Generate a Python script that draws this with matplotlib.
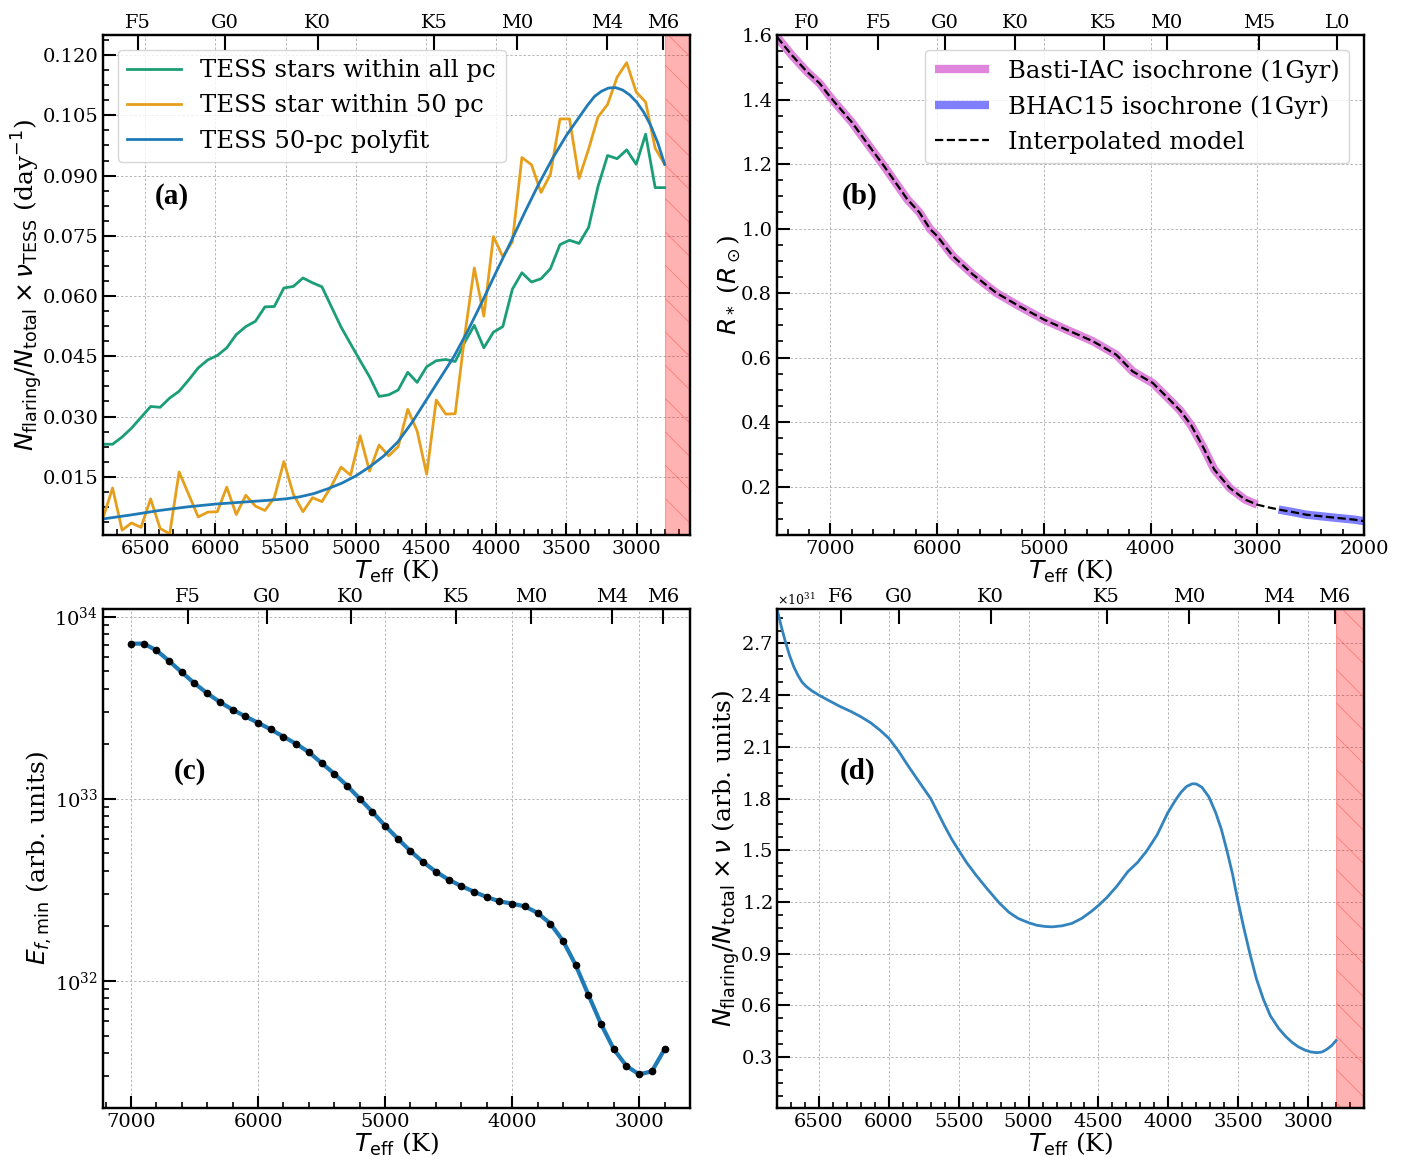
import numpy as np
import matplotlib
matplotlib.use("Agg")
import matplotlib.pyplot as plt
from matplotlib.ticker import MultipleLocator, AutoMinorLocator, NullLocator, ScalarFormatter

# ---------------- data ----------------
# panel (a): binned Teff grid (K)
teff_a = [6800, 6732, 6664, 6597, 6529, 6461, 6393, 6325, 6258, 6190,
          6122, 6054, 5986, 5919, 5851, 5783, 5715, 5647, 5580, 5512,
          5444, 5376, 5308, 5241, 5173, 5105, 5037, 4969, 4902, 4834,
          4766, 4698, 4630, 4563, 4495, 4427, 4359, 4292, 4224, 4156,
          4088, 4020, 3953, 3885, 3817, 3749, 3681, 3614, 3546, 3478,
          3410, 3342, 3275, 3207, 3139, 3071, 3003, 2936, 2868, 2800]
rate_all = [0.0231, 0.0231, 0.0249, 0.0271, 0.0298, 0.0325, 0.0323, 0.0346, 0.0363, 0.0391,
            0.0421, 0.0441, 0.0452, 0.0471, 0.0504, 0.0524, 0.0537, 0.0573, 0.0574, 0.0620,
            0.0624, 0.0645, 0.0633, 0.0623, 0.0573, 0.0523, 0.0481, 0.0439, 0.0399, 0.0350,
            0.0354, 0.0366, 0.0410, 0.0385, 0.0424, 0.0439, 0.0442, 0.0437, 0.0485, 0.0527,
            0.0471, 0.0510, 0.0524, 0.0617, 0.0658, 0.0635, 0.0643, 0.0668, 0.0728, 0.0739,
            0.0731, 0.0771, 0.0873, 0.0950, 0.0942, 0.0964, 0.0928, 0.1003, 0.0870, 0.0870]
rate_50pc = [0.0047, 0.0122, 0.0017, 0.0035, 0.0024, 0.0095, 0.0021, 0.0008, 0.0162, 0.0106,
             0.0050, 0.0062, 0.0063, 0.0124, 0.0056, 0.0104, 0.0077, 0.0066, 0.0098, 0.0188,
             0.0106, 0.0063, 0.0098, 0.0088, 0.0127, 0.0174, 0.0154, 0.0252, 0.0164, 0.0229,
             0.0202, 0.0225, 0.0318, 0.0264, 0.0156, 0.0341, 0.0306, 0.0307, 0.0502, 0.0670,
             0.0550, 0.0748, 0.0698, 0.0735, 0.0945, 0.0927, 0.0858, 0.0903, 0.1041, 0.1041,
             0.0893, 0.0966, 0.1046, 0.1077, 0.1145, 0.1181, 0.1108, 0.1083, 0.0968, 0.0928]
teff_fit = [6800, 6600, 6400, 6200, 6000, 5800, 5600, 5500, 5400, 5300, 5200, 5100,
            5000, 4900, 4800, 4700, 4600, 4500, 4400, 4300, 4200, 4100, 4000, 3900,
            3800, 3700, 3600, 3500, 3400, 3350, 3300, 3250, 3200, 3150, 3100, 3050,
            3000, 2950, 2900, 2850, 2800]
rate_fit = [0.0045, 0.0055, 0.0066, 0.0075, 0.0082, 0.0087, 0.0092, 0.0095, 0.0100, 0.0108,
            0.0120, 0.0134, 0.0152, 0.0175, 0.0202, 0.0237, 0.0285, 0.0340, 0.0395, 0.0450,
            0.0515, 0.0586, 0.0660, 0.0732, 0.0806, 0.0877, 0.0942, 0.1000, 0.1050, 0.1075,
            0.1097, 0.1110, 0.1118, 0.1119, 0.1113, 0.1101, 0.1083, 0.1058, 0.1025, 0.0982,
            0.0928]

# panel (b): radius vs Teff
basti_teff = [7500, 7360, 7216, 7100, 7000, 6800, 6650, 6500, 6280, 6166, 6065, 6000,
              5854, 5666, 5447, 5229, 5000, 4791, 4542, 4322, 4167, 3979, 3823, 3720,
              3619, 3511, 3403, 3259, 3115, 3000]
basti_r = [1.594, 1.537, 1.485, 1.450, 1.407, 1.330, 1.262, 1.195, 1.091, 1.050, 0.998, 0.977,
           0.915, 0.858, 0.801, 0.759, 0.718, 0.687, 0.651, 0.609, 0.557, 0.521, 0.470, 0.435,
           0.390, 0.325, 0.253, 0.196, 0.160, 0.144]
bhac_teff = [2800, 2650, 2543, 2400, 2255, 2100, 2000]
bhac_r = [0.129, 0.120, 0.113, 0.108, 0.103, 0.098, 0.093]
interp_teff = basti_teff + [2900] + bhac_teff
interp_r = basti_r + [0.136] + bhac_r

# panel (c): minimum flare energy
teff_c = [7000, 6900, 6800, 6700, 6600, 6500, 6400, 6300, 6200, 6100, 6000, 5900, 5800,
          5700, 5600, 5500, 5400, 5300, 5200, 5100, 5000, 4900, 4800, 4700, 4600, 4500,
          4400, 4300, 4200, 4100, 4000, 3900, 3800, 3700, 3600, 3500, 3400, 3300, 3200,
          3100, 3000, 2900, 2800]
emin = [7.1e33, 7.1e33, 6.53e33, 5.7e33, 4.94e33, 4.3e33, 3.79e33, 3.39e33, 3.08e33, 2.83e33,
        2.61e33, 2.40e33, 2.19e33, 2.0e33, 1.80e33, 1.57e33, 1.37e33, 1.18e33, 1.0e33, 8.46e32,
        7.1e32, 6.03e32, 5.15e32, 4.48e32, 3.97e32, 3.59e32, 3.31e32, 3.08e32, 2.88e32, 2.73e32,
        2.65e32, 2.56e32, 2.36e32, 2.06e32, 1.66e32, 1.22e32, 8.37e31, 5.78e31, 4.21e31, 3.40e31,
        3.06e31, 3.18e31, 4.21e31]

# panel (d): model flaring rate (units of 1e31)
teff_d = [6800, 6770, 6740, 6710, 6680, 6650, 6620, 6590, 6550, 6500, 6420, 6350, 6270,
          6200, 6130, 6060, 6000, 5930, 5870, 5790, 5700, 5650, 5600, 5550, 5500, 5440,
          5375, 5300, 5210, 5140, 5075, 5000, 4940, 4880, 4830, 4760, 4690, 4620, 4550,
          4500, 4440, 4370, 4290, 4220, 4155, 4080, 4005, 3950, 3910, 3870, 3830, 3800,
          3760, 3710, 3660, 3620, 3580, 3540, 3505, 3460, 3415, 3370, 3320, 3270, 3210,
          3160, 3115, 3070, 3020, 2980, 2935, 2900, 2865, 2830, 2800]
rate_d = [2.90, 2.80, 2.71, 2.63, 2.565, 2.515, 2.475, 2.45, 2.425, 2.40, 2.365, 2.335, 2.305,
          2.275, 2.24, 2.195, 2.15, 2.075, 2.00, 1.905, 1.80, 1.72, 1.64, 1.565, 1.50, 1.425,
          1.355, 1.28, 1.195, 1.14, 1.105, 1.08, 1.065, 1.058, 1.056, 1.062, 1.076, 1.105, 1.146,
          1.18, 1.226, 1.29, 1.376, 1.43, 1.496, 1.59, 1.716, 1.79, 1.836, 1.87, 1.886, 1.885,
          1.866, 1.81, 1.716, 1.62, 1.496, 1.36, 1.216, 1.05, 0.896, 0.755, 0.636, 0.54, 0.466,
          0.42, 0.386, 0.36, 0.340, 0.330, 0.326, 0.330, 0.346, 0.368, 0.396]

# spectral-type axes
sp_a_teff = [6550, 5930, 5270, 4440, 3850, 3210, 2810]
sp_a_lab = ["F5", "G0", "K0", "K5", "M0", "M4", "M6"]
sp_b_teff = [7220, 6550, 5930, 5270, 4440, 3850, 2980, 2250]
sp_b_lab = ["F0", "F5", "G0", "K0", "K5", "M0", "M5", "L0"]
sp_d_teff = [6340, 5930, 5270, 4440, 3850, 3210, 2810]
sp_d_lab = ["F6", "G0", "K0", "K5", "M0", "M4", "M6"]

# ---------------- style ----------------
plt.rcParams.update({
    "font.family": "DejaVu Serif",
    "mathtext.fontset": "dejavusans",
    "font.size": 14,
    "axes.linewidth": 1.6,
    "xtick.direction": "in", "ytick.direction": "in",
    "xtick.major.size": 9, "ytick.major.size": 9,
    "xtick.minor.size": 4.5, "ytick.minor.size": 4.5,
    "xtick.major.width": 1.5, "ytick.major.width": 1.5,
    "xtick.minor.width": 1.2, "ytick.minor.width": 1.2,
    "xtick.labelsize": 14, "ytick.labelsize": 14,
    "hatch.linewidth": 0.6,
})

W, H = 1407, 1157
fig = plt.figure(figsize=(W / 100, H / 100), dpi=100)


def rect(l, r, t, b):
    return [l / W, 1 - b / H, (r - l) / W, (b - t) / H]


axa = fig.add_axes(rect(103, 690, 35, 535))
axb = fig.add_axes(rect(777, 1364, 35, 535))
axc = fig.add_axes(rect(103, 690, 609, 1108))
axd = fig.add_axes(rect(777, 1364, 609, 1108))

grid_kw = dict(ls=(0, (2.5, 2)), lw=0.7, color="#b5b5b5")
lab_fs = 18
leg_fs = 17.5
c_green = "#1b9e77"
c_orange = "#e69f1c"
c_blue = "#1f7ab5"


def add_top(ax, teffs, labels):
    t = ax.twiny()
    t.set_xlim(ax.get_xlim())
    t.set_xticks(teffs)
    t.set_xticklabels(labels)
    t.xaxis.set_minor_locator(NullLocator())
    t.tick_params(axis="x", direction="in", length=11, width=1.5, labelsize=14, pad=2)
    return t


def panel_label(ax, txt, x, y):
    ax.text(x, y, txt, transform=ax.transAxes, ha="center", va="center",
            fontsize=21, fontweight="bold", family="Liberation Serif")


def red_span(ax):
    ax.axvspan(2800, 2500, facecolor="red", edgecolor="red", alpha=0.3,
               hatch="\\", lw=0.8, zorder=1)


# ---- (a)
axa.plot(teff_a, rate_all, color=c_green, lw=2.0, label="TESS stars within all pc", zorder=3)
axa.plot(teff_a, rate_50pc, color=c_orange, lw=2.0, label="TESS star within 50 pc", zorder=3)
axa.plot(teff_fit, rate_fit, color=c_blue, lw=2.0, label="TESS 50-pc polyfit", zorder=4)
red_span(axa)
axa.set_xlim(6800, 2620)
axa.set_ylim(0.0005, 0.125)
axa.xaxis.set_major_locator(MultipleLocator(500))
axa.xaxis.set_minor_locator(AutoMinorLocator())
axa.yaxis.set_major_locator(MultipleLocator(0.015))
axa.yaxis.set_minor_locator(AutoMinorLocator())
axa.grid(True, which="major", **grid_kw)
axa.set_axisbelow(True)
axa.set_xlabel(r"$T_{\rm eff}$ (K)", fontsize=lab_fs, labelpad=0)
axa.set_ylabel(r"$N_{\rm flaring}/N_{\rm total}\times\nu_{\rm TESS}$ (day$^{-1}$)",
               fontsize=lab_fs, labelpad=-2)
axa.legend(loc="upper left", fontsize=leg_fs, handlelength=2.2, borderaxespad=0.6)
panel_label(axa, "(a)", 0.117, 0.678)
add_top(axa, sp_a_teff, sp_a_lab)

# ---- (b)
axb.plot(basti_teff, basti_r, color="orchid", lw=6, alpha=0.85, solid_capstyle="butt",
         label="Basti-IAC isochrone (1Gyr)")
axb.plot(bhac_teff, bhac_r, color="blue", lw=6, alpha=0.5, solid_capstyle="butt",
         label="BHAC15 isochrone (1Gyr)")
axb.plot(interp_teff, interp_r, color="black", lw=1.6, ls="--", label="Interpolated model")
axb.set_xlim(7500, 2000)
axb.set_ylim(0.05, 1.6)
axb.xaxis.set_major_locator(MultipleLocator(1000))
axb.xaxis.set_minor_locator(AutoMinorLocator())
axb.yaxis.set_major_locator(MultipleLocator(0.2))
axb.yaxis.set_minor_locator(AutoMinorLocator())
axb.grid(True, which="major", **grid_kw)
axb.set_axisbelow(True)
axb.set_xlabel(r"$T_{\rm eff}$ (K)", fontsize=lab_fs, labelpad=0)
axb.set_ylabel(r"$R_*$ ($R_\odot$)", fontsize=lab_fs, labelpad=-1)
axb.legend(loc="upper right", fontsize=leg_fs, handlelength=2.2, borderaxespad=0.6)
panel_label(axb, "(b)", 0.141, 0.678)
add_top(axb, sp_b_teff, sp_b_lab)

# ---- (c)
axc.plot(teff_c, emin, color=c_blue, lw=3, zorder=3)
axc.plot(teff_c, emin, "o", color="black", ms=4.5, zorder=4)
axc.set_yscale("log")
axc.set_xlim(7220, 2600)
axc.set_ylim(2.0e31, 1.1e34)
axc.xaxis.set_major_locator(MultipleLocator(1000))
axc.xaxis.set_minor_locator(AutoMinorLocator())
axc.grid(True, which="major", **grid_kw)
axc.set_axisbelow(True)
axc.set_xlabel(r"$T_{\rm eff}$ (K)", fontsize=lab_fs, labelpad=0)
axc.set_ylabel(r"$E_{f,\rm min}$ (arb. units)", fontsize=lab_fs, labelpad=0)
panel_label(axc, "(c)", 0.148, 0.675)
add_top(axc, sp_a_teff, sp_a_lab)

# ---- (d)
axd.plot(teff_d, np.array(rate_d) * 1e31, color="#3283be", lw=2.0, zorder=3)
red_span(axd)
axd.set_xlim(6800, 2600)
axd.set_ylim(0.005e31, 2.9e31)
axd.xaxis.set_major_locator(MultipleLocator(500))
axd.xaxis.set_minor_locator(AutoMinorLocator())
axd.yaxis.set_major_locator(MultipleLocator(0.3e31))
axd.yaxis.set_minor_locator(AutoMinorLocator())
fmt = ScalarFormatter(useMathText=True)
fmt.set_powerlimits((0, 0))
axd.yaxis.set_major_formatter(fmt)
axd.yaxis.get_offset_text().set_fontsize(9)
axd.grid(True, which="major", **grid_kw)
axd.set_axisbelow(True)
axd.set_xlabel(r"$T_{\rm eff}$ (K)", fontsize=lab_fs, labelpad=0)
axd.set_ylabel(r"$N_{\rm flaring}/N_{\rm total}\times\nu$ (arb. units)",
               fontsize=lab_fs, labelpad=-1)
panel_label(axd, "(d)", 0.138, 0.675)
add_top(axd, sp_d_teff, sp_d_lab)

fig.savefig("out.png", dpi=100)
